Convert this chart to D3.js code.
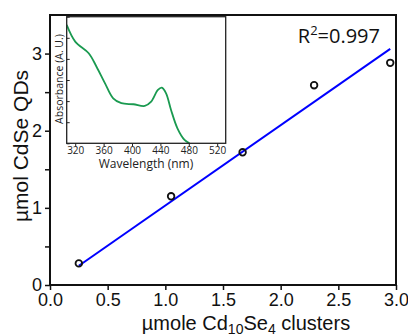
<!DOCTYPE html>
<html><head><meta charset="utf-8">
<script src="https://cdn.jsdelivr.net/npm/d3@7"></script>
<style>body{margin:0;background:#fff}</style>
</head><body>
<svg id="c" width="408" height="336"></svg>
<script>
// Main data
const clusters = [0.25, 1.05, 1.67, 2.29, 2.95];
const qds = [0.28, 1.15, 1.72, 2.59, 2.88];
const fitX = [0.25, 2.95];
const fitY = [0.25, 3.06];
const xTicks = [0, 0.5, 1.0, 1.5, 2.0, 2.5, 3.0];
const yTicks = [0, 1, 2, 3];
const yMinor = [0.5, 1.5, 2.5];
// Inset data (absorbance spectrum)
const wavelength = [308, 320, 339, 350, 362, 373.5, 385, 402, 418, 427, 436.5, 442, 448, 455, 464, 474, 481];
const absorbance = [0.561, 0.482, 0.427, 0.363, 0.284, 0.213, 0.190, 0.185, 0.177, 0.197, 0.253, 0.264, 0.237, 0.158, 0.071, 0.016, 0.0];
const wlTicks = [320, 360, 400, 440, 480, 520];
const absTicks = [0, 0.1, 0.2, 0.3, 0.4, 0.5, 0.6];

const svg = d3.select("#c");
const x = d3.scaleLinear().domain([0, 3]).range([50, 396]);
const y = d3.scaleLinear().domain([0, 3.5]).range([285, 15]);
const sans = "'Liberation Sans', Arial, sans-serif";
const myriad = "'Open Sans', 'Noto Sans', sans-serif";

// axes
const xAxis = svg.append("g").attr("transform", "translate(0,285)")
  .call(d3.axisBottom(x).tickValues(xTicks).tickFormat(d3.format(".1f")).tickSize(5).tickPadding(3));
const yAxis = svg.append("g").attr("transform", "translate(50,0)")
  .call(d3.axisLeft(y).tickValues(yTicks).tickFormat(d3.format("d")).tickSize(5).tickPadding(3));
svg.append("g").attr("transform", "translate(50,0)")
  .call(d3.axisLeft(y).tickValues(yMinor).tickFormat("").tickSize(5))
  .select(".domain").remove();
[xAxis, yAxis].forEach(g => {
  g.selectAll("text").attr("font-family", sans).attr("font-size", 18).attr("fill", "#111");
  g.select(".domain").remove();
});
svg.selectAll(".tick line").attr("stroke", "#111").attr("stroke-width", 1.5);

// frame
svg.append("rect").attr("x", x(0)).attr("y", y(3.5)).attr("width", x(3) - x(0)).attr("height", y(0) - y(3.5))
  .attr("fill", "none").attr("stroke", "#111").attr("stroke-width", 2);

// fit line
svg.append("line").attr("x1", x(fitX[0])).attr("y1", y(fitY[0])).attr("x2", x(fitX[1])).attr("y2", y(fitY[1]))
  .attr("stroke", "#0000ff").attr("stroke-width", 2);

// points
svg.selectAll("circle.p").data(clusters).join("circle").attr("class", "p")
  .attr("cx", d => x(d)).attr("cy", (d, i) => y(qds[i])).attr("r", 3.3)
  .attr("fill", "none").attr("stroke", "#111").attr("stroke-width", 1.8);

// R^2
const r2 = svg.append("text").attr("x", 380).attr("y", 43).attr("text-anchor", "end")
  .attr("font-family", myriad).attr("font-size", 20).attr("fill", "#111");
r2.append("tspan").text("R");
r2.append("tspan").attr("font-size", 13).attr("dy", -8).text("2");
r2.append("tspan").attr("dy", 8).text("=0.997");

// axis titles
svg.append("text").attr("transform", "translate(28,146) rotate(-90)").attr("text-anchor", "middle")
  .attr("font-family", sans).attr("font-size", 21).attr("fill", "#111").text("µmol CdSe QDs");
const xl = svg.append("text").attr("x", 246).attr("y", 330).attr("text-anchor", "middle")
  .attr("font-family", sans).attr("font-size", 20).attr("fill", "#111");
xl.append("tspan").text("µmole Cd");
xl.append("tspan").attr("font-size", 14).attr("dy", 4).text("10");
xl.append("tspan").attr("dy", -4).text("Se");
xl.append("tspan").attr("font-size", 14).attr("dy", 4).text("4");
xl.append("tspan").attr("dy", -4).text(" clusters");

// inset
const ix = d3.scaleLinear().domain([308, 532]).range([66.7, 225.7]);
const iy = d3.scaleLinear().domain([0, 0.6]).range([143.3, 16.7]);
svg.append("rect").attr("x", ix(308)).attr("y", iy(0.6)).attr("width", ix(532) - ix(308)).attr("height", iy(0) - iy(0.6))
  .attr("fill", "#fff");
const clipId = "insetClip";
svg.append("clipPath").attr("id", clipId).append("rect")
  .attr("x", ix(308)).attr("y", iy(0.6)).attr("width", ix(532) - ix(308)).attr("height", iy(0) - iy(0.6));
svg.append("path").datum(wavelength.map((w, i) => [w, absorbance[i]]))
  .attr("clip-path", `url(#${clipId})`)
  .attr("d", d3.line().x(d => ix(d[0])).y(d => iy(d[1])).curve(d3.curveCatmullRom.alpha(0.5)))
  .attr("fill", "none").attr("stroke", "#1a9a50").attr("stroke-width", 1.8);
const ixa = svg.append("g").attr("transform", `translate(0,${iy(0)})`)
  .call(d3.axisBottom(ix).tickValues(wlTicks).tickSize(3).tickPadding(1));
const iya = svg.append("g").attr("transform", `translate(${ix(308)},0)`)
  .call(d3.axisLeft(iy).tickValues(absTicks).tickSize(-3).tickFormat(""));
[ixa, iya].forEach(g => { g.select(".domain").remove(); g.selectAll("line").attr("stroke", "#222"); });
ixa.selectAll("text").attr("font-family", myriad).attr("font-size", 10).attr("fill", "#222");
svg.append("rect").attr("x", ix(308)).attr("y", iy(0.6)).attr("width", ix(532) - ix(308)).attr("height", iy(0) - iy(0.6))
  .attr("fill", "none").attr("stroke", "#222").attr("stroke-width", 1.3);
svg.append("text").attr("x", 146).attr("y", 168).attr("text-anchor", "middle")
  .attr("font-family", myriad).attr("font-size", 12).attr("fill", "#222").text("Wavelength (nm)");
svg.append("text").attr("transform", "translate(63,79) rotate(-90)").attr("text-anchor", "middle")
  .attr("font-family", myriad).attr("font-size", 10.5).attr("fill", "#222").text("Absorbance (A. U.)");
</script>
</body></html>
